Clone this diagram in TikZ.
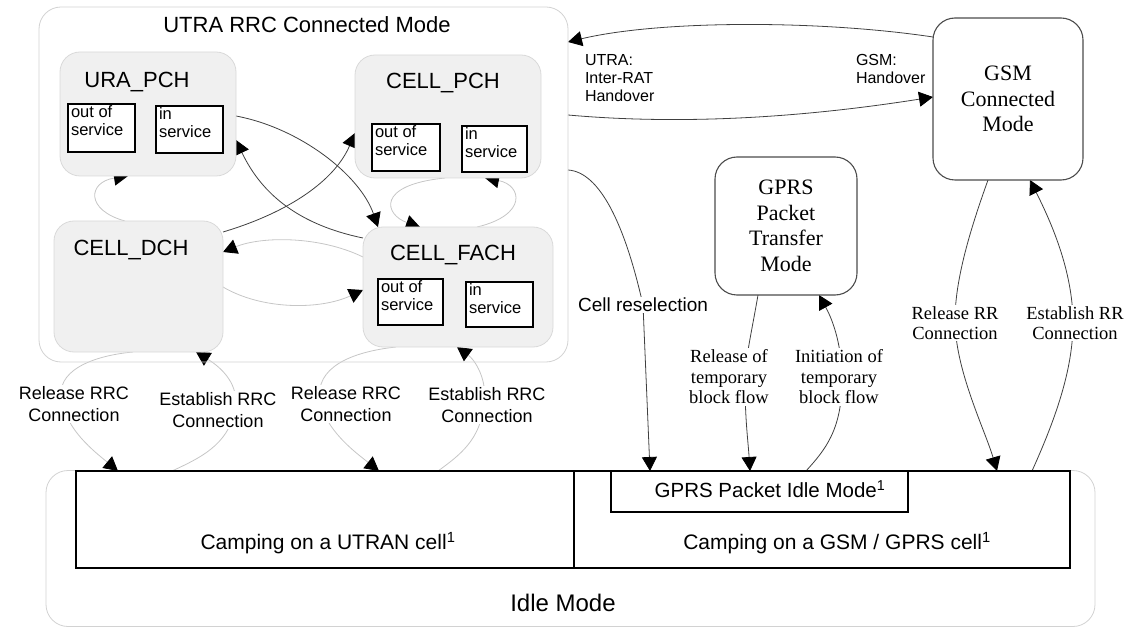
\documentclass[tikz,border=0pt]{standalone}
\usepackage{fontspec}
\newfontfamily\lsans{Liberation Sans}
\newfontfamily\lserif{Liberation Serif}
\usetikzlibrary{arrows.meta}
\pgfdeclarelayer{bg}
\pgfsetlayers{bg,main}
\begin{document}
\begin{tikzpicture}[x=1pt,y=-1pt,
  every node/.style={inner sep=0pt, outer sep=0pt},
  outer/.style={draw=gray!35, line width=0.8pt, rounded corners=22pt},
  state/.style={draw=gray!30, fill=gray!12, line width=0.8pt, rounded corners=20pt},
  sub/.style={draw=black, line width=1.1pt, fill=white},
  mode/.style={draw=black!70, line width=1.1pt, rounded corners=22pt, fill=white, align=center, font=\lserif\fontsize{22}{25.5}\selectfont},
  camp/.style={draw=black, line width=1.4pt},
  tbig/.style={font=\lsans\fontsize{22}{25}\selectfont},
  subtxt/.style={anchor=north west, align=left, font=\lsans\fontsize{16.5}{18}\selectfont},
  lbl/.style={fill=white, inner sep=1.5pt, align=center, font=\lsans\fontsize{18}{22}\selectfont},
  slbl/.style={fill=white, inner sep=1.5pt, align=center, font=\lserif\fontsize{18.5}{20.5}\selectfont},
  small/.style={anchor=west, align=left, font=\lsans\fontsize{16}{18}\selectfont},
  camptxt/.style={font=\lsans\fontsize{21}{24}\selectfont},
  dk/.style={draw=black!75, line width=0.8pt, -{Triangle[length=14pt,width=15pt,color=black]}},
  lt/.style={draw=gray!45, line width=0.8pt, -{Triangle[length=14pt,width=15pt,color=black]}}
]
\useasboundingbox (0,0) rectangle (1124,628);

% UTRA RRC connected mode
\node[outer, minimum width=529pt, minimum height=355pt] (utra) at (303.5,184.5) {};
\node[tbig] (utratitle) at (307,25) {UTRA RRC Connected Mode};

\node[state, minimum width=176pt, minimum height=124pt] (ura) at (148,114) {};
\node[tbig] (uralbl) at (137,82) {URA\_PCH};
\node[sub, minimum width=67pt, minimum height=48pt] (urao) at (101.5,128) {};
\node[subtxt] (uraot) at ([xshift=3pt,yshift=-2pt]urao.north west) {out of\\service};
\node[sub, minimum width=67pt, minimum height=47pt] (urai) at (189.5,129.5) {};
\node[subtxt] (urait) at ([xshift=3pt,yshift=-2pt]urai.north west) {in\\service};

\node[state, minimum width=186pt, minimum height=123pt] (pch) at (448,116.5) {};
\node[tbig] (pchlbl) at (443,83) {CELL\_PCH};
\node[sub, minimum width=68pt, minimum height=47pt] (pcho) at (406,147.5) {};
\node[subtxt] (pchot) at ([xshift=3pt,yshift=-2pt]pcho.north west) {out of\\service};
\node[sub, minimum width=65pt, minimum height=46pt] (pchi) at (494.5,149) {};
\node[subtxt] (pchit) at ([xshift=3pt,yshift=-2pt]pchi.north west) {in\\service};

\node[state, minimum width=169pt, minimum height=131pt] (dch) at (138.5,286.5) {};
\node[tbig] (dchlbl) at (131,250) {CELL\_DCH};

\node[state, minimum width=190pt, minimum height=120pt] (fach) at (458,287) {};
\node[tbig] (fachlbl) at (453,255) {CELL\_FACH};
\node[sub, minimum width=65pt, minimum height=46pt] (facho) at (410.5,302) {};
\node[subtxt] (fachot) at ([xshift=3pt,yshift=-2pt]facho.north west) {out of\\service};
\node[sub, minimum width=67pt, minimum height=45pt] (fachi) at (499.5,304.5) {};
\node[subtxt] (fachit) at ([xshift=3pt,yshift=-2pt]fachi.north west) {in\\service};

% GSM / GPRS modes
\node[mode, minimum width=150pt, minimum height=162pt] (gsm) at (1008,99) {GSM\\Connected\\Mode};
\node[mode, minimum width=142pt, minimum height=138pt] (gtm) at (786,226) {GPRS\\Packet\\Transfer\\Mode};

% Idle mode
\node[outer, minimum width=1049pt, minimum height=156pt] (idle) at (570.5,548.5) {};
\node[font=\lsans\fontsize{24}{27}\selectfont] (idlelbl) at (563,603) {Idle Mode};
\node[camp, minimum width=498pt, minimum height=97pt] (camu) at (325,519.5) {};
\node[camp, minimum width=496pt, minimum height=97pt] (camg) at (822,519.5) {};
\node[camptxt] (camutxt) at (328,543) {Camping on a UTRAN cell\textsuperscript{1}};
\node[camptxt] (camgtxt) at (837,543) {Camping on a GSM / GPRS cell\textsuperscript{1}};
\node[camp, minimum width=297pt, minimum height=41pt] (gidle) at (759.5,491.5) {};
\node[font=\lsans\fontsize{20.5}{24}\selectfont] (gidletxt) at (770,489) {GPRS Packet Idle Mode\textsuperscript{1}};

% labels
\node[small] (lutra) at (585,78) {UTRA:\\Inter-RAT\\Handover};
\node[small] (lgsm) at (856,69) {GSM:\\Handover};
\node[lbl] (lrel1) at (74,404) {Release RRC\\Connection};
\node[lbl] (lest1) at (218,410) {Establish RRC\\Connection};
\node[lbl] (lrel2) at (346,404) {Release RRC\\Connection};
\node[lbl] (lest2) at (487,405) {Establish RRC\\Connection};
\node[lbl, font=\lsans\fontsize{19}{22}\selectfont] (lcell) at (643,305) {Cell reselection};
\node[slbl] (ltbf1) at (729,377) {Release of\\temporary\\block flow};
\node[slbl] (ltbf2) at (839,377) {Initiation of\\temporary\\block flow};
\node[slbl] (lrr1) at (955,323) {Release RR\\Connection};
\node[slbl] (lrr2) at (1075,323) {Establish RR\\Connection};

\begin{pgfonlayer}{bg}
% inside UTRA connected mode
\draw[dk] (ura.east |- 0,116) .. controls (300,128) and (360,175) .. (378,0 |- fach.north);
\draw[dk] (fach.west |- 0,238) .. controls (300,225) and (262,195) .. (ura.east |- 0,140);
\draw[dk] (dch.east |- 0,232) .. controls (290,212) and (335,180) .. (pch.west |- 0,133);
\draw[lt] (fach.west |- 0,257) .. controls (320,236) and (262,236) .. (dch.east |- 0,252);
\draw[lt] (dch.east |- 0,287) .. controls (262,310) and (320,310) .. (fach.west |- 0,290);
\draw[lt] (125,0 |- dch.north) .. controls (85,210) and (88,182) .. (128,0 |- ura.south);
\draw[lt] (445,0 |- pch.south) .. controls (375,185) and (385,215) .. (420,0 |- fach.north);
\draw[lt] (477,0 |- fach.north) .. controls (528,215) and (522,185) .. (485,0 |- pch.south);
% UTRA <-> idle
\draw[lt] (133,0 |- dch.south) .. controls (90,356) and (55,372) .. (62,400) .. controls (66,430) and (95,452) .. (118,0 |- camu.north);
\draw[lt] (172,0 |- camu.north) .. controls (200,458) and (228,445) .. (235,410) .. controls (240,385) and (222,368) .. (196,0 |- dch.south);
\draw[lt] (396,0 |- fach.south) .. controls (350,352) and (315,368) .. (320,400) .. controls (325,430) and (355,452) .. (379,0 |- camu.north);
\draw[lt] (438,0 |- camu.north) .. controls (460,455) and (480,440) .. (484,405) .. controls (488,380) and (475,360) .. (457,0 |- fach.south);
% inter-RAT handover
\draw[dk] (gsm.west |- 0,37) .. controls (820,20) and (660,20) .. (utra.east |- 0,42);
\draw[dk] (utra.east |- 0,115) .. controls (680,125) and (800,118) .. (gsm.west |- 0,97);
% cell reselection
\draw[dk] (utra.east |- 0,170) .. controls (600,172) and (625,225) .. (lcell.center) -- (650,0 |- gidle.north);
% GPRS
\draw[dk] (758,0 |- gtm.south) .. controls (752,330) and (745,360) .. (745,380) .. controls (745,420) and (748,440) .. (750,0 |- gidle.north);
\draw[dk] (806,0 |- gidle.north) .. controls (825,450) and (842,430) .. (842,380) .. controls (842,340) and (830,315) .. (819,0 |- gtm.south);
% GSM RR
\draw[dk] (988,0 |- gsm.south) .. controls (970,230) and (955,280) .. (955,320) .. controls (955,370) and (985,430) .. (997,0 |- camg.north);
\draw[dk] (1032,0 |- camg.north) .. controls (1055,420) and (1073,370) .. (1073,323) .. controls (1073,270) and (1050,220) .. (1030,0 |- gsm.south);
\end{pgfonlayer}
\end{tikzpicture}
\end{document}
